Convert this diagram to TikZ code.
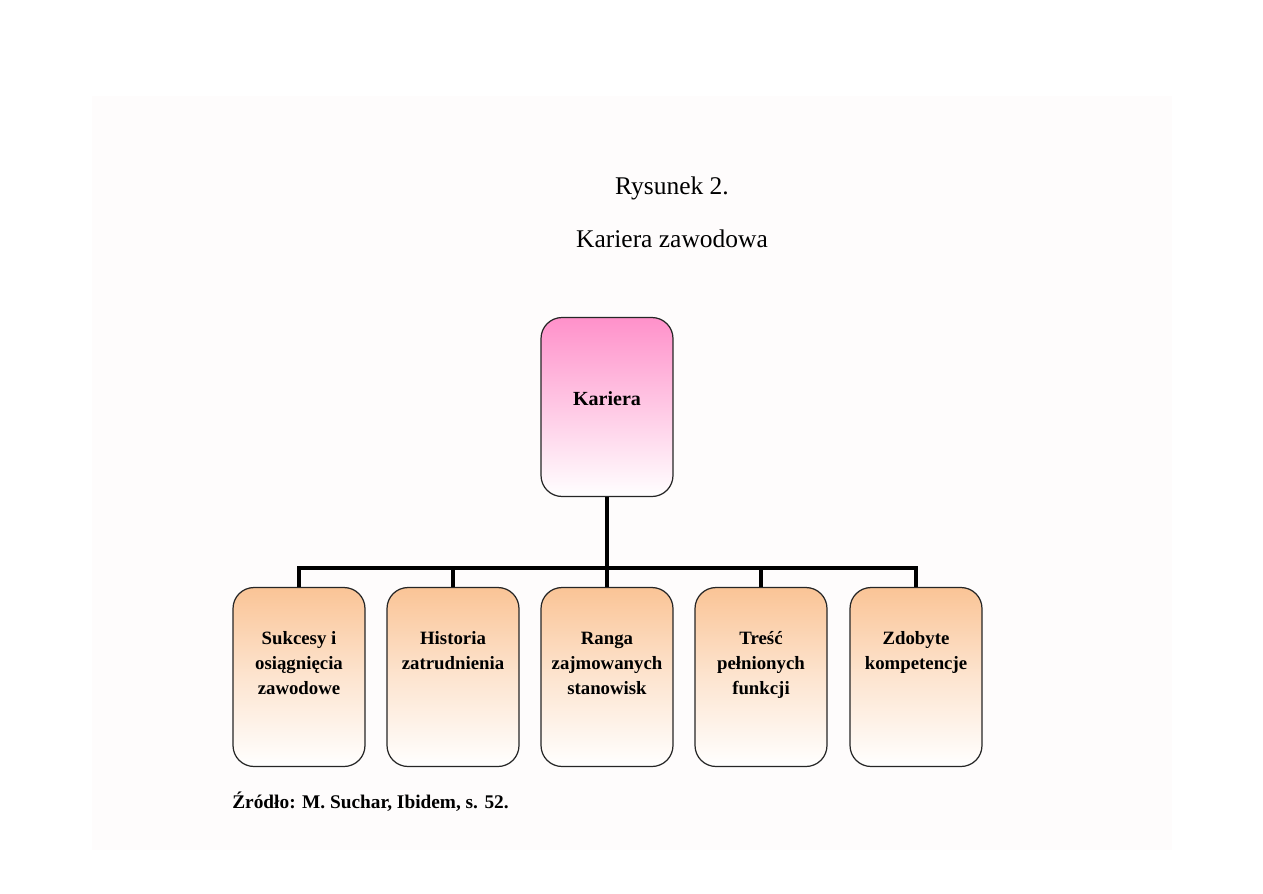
\documentclass[tikz,border=0pt]{standalone}
\usepackage{fontspec}
\setmainfont{Liberation Serif}
\usepackage{tikz}
\usetikzlibrary{positioning, calc}
\definecolor{KarPink}{RGB}{255,145,202}
\definecolor{BoxOrange}{RGB}{250,196,150}
\definecolor{PageTint}{RGB}{254,252,252}
\tikzset{
  topbox/.style={draw=black!85, line width=0.7pt, rounded corners=0.42cm, inner sep=0pt,
    top color=KarPink, bottom color=white, middle color=KarPink!50,
    minimum width=2.64cm, minimum height=3.58cm},
  subbox/.style={draw=black!85, line width=0.7pt, rounded corners=0.42cm, inner sep=0pt,
    top color=BoxOrange, bottom color=white, middle color=BoxOrange!45,
    minimum width=2.64cm, minimum height=3.58cm},
  conn/.style={line width=2.4pt, black},
  titletxt/.style={font=\fontsize{14.5}{17}\selectfont, inner sep=0pt},
}
\newcommand{\boxtext}[2]{\parbox[c][3.58cm][t]{2.64cm}{\centering\vspace*{#1}%
  \fontsize{10.7}{14.2}\selectfont\bfseries\strut #2}}

\begin{document}
\begin{tikzpicture}[x=0.02cm, y=-0.02cm]
    \useasboundingbox (0,0) rectangle (1263,893);
    \fill[PageTint] (92,96) rectangle (1172,850);
    \node[titletxt] (fig) at (672,188) {Rysunek 2.};
    \node[titletxt] (title) at (672,239) {Kariera zawodowa};
    \node[topbox] (kariera) at (607,407) {\boxtext{1.42cm}{\fontsize{11.4}{14}\selectfont Kariera}};
    \foreach \i/\x/\t in {1/299/{Sukcesy i\\osiągnięcia\\zawodowe},
                          2/453/{Historia\\zatrudnienia},
                          3/607/{Ranga\\zajmowanych\\stanowisk},
                          4/761/{Treść\\pełnionych\\funkcji},
                          5/916/{Zdobyte\\kompetencje}} {
      \node[subbox] (b\i) at (\x,677) {\boxtext{0.8cm}{\t}};
    }
    \coordinate (bus) at (607,568);
    \draw[conn] (kariera.south) -- (bus);
    \draw[conn] (b1.north) |- (b5.north |- bus) -- (b5.north);
    \foreach \i in {2,3,4} {
      \draw[conn] (b\i.north |- bus) -- (b\i.north);
    }
    \node[anchor=west, inner sep=0pt, font=\fontsize{11}{13}\selectfont\bfseries] (zrodlo)
      at (232,802) {Źródło: M. Suchar, Ibidem, s. 52.};
\end{tikzpicture}
\end{document}
